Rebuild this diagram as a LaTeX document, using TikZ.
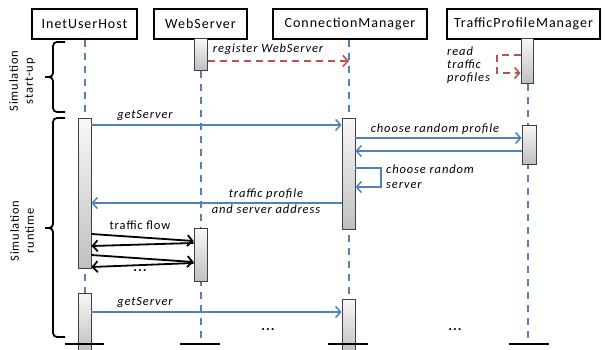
\documentclass[tikz,border=0pt]{standalone}
\usepackage{fontspec}
\setmainfont[LetterSpace=7]{Carlito}
\usetikzlibrary{arrows.meta}
\definecolor{lblue}{HTML}{4F81BD}
\definecolor{lred}{HTML}{C0504D}
\begin{document}
\begin{tikzpicture}[x=1pt,y=-1pt,
  head/.style={draw=black, line width=1.6pt, fill=white, minimum height=30pt, inner sep=0pt, font=\fontsize{14}{16}\selectfont},
  act/.style={draw=black!75, line width=0.8pt, top color=gray!6, bottom color=gray!50, minimum width=13pt, inner sep=0pt, anchor=north},
  life/.style={lblue, line width=1.8pt, dash pattern=on 7.5pt off 5.5pt},
  msg/.style={lblue, line width=1.5pt, -{Straight Barb[length=5pt, width=11pt, line width=1.5pt]}},
  rmsg/.style={lred, line width=1.8pt, dash pattern=on 7pt off 5pt, -{Straight Barb[length=5pt, width=11pt, line width=1.6pt]}},
  flow/.style={black, line width=1.8pt, -{Straight Barb[length=5pt, width=11pt, line width=1.8pt]}},
  bar/.style={black, line width=1.8pt},
  brc/.style={black, line width=1.8pt, rounded corners=4pt},
  lbl/.style={font=\fontsize{12.5}{13}\selectfont\itshape, inner sep=0pt},
  ulbl/.style={font=\fontsize{12.5}{13}\selectfont, inner sep=0pt},
  dots/.style={font=\fontsize{14}{14}\selectfont\bfseries, inner sep=0pt},
  side/.style={font=\fontsize{12.5}{15}\selectfont, align=center, rotate=90, inner sep=0pt},
]
\useasboundingbox (0,0) rectangle (605,349);
\fill[white] (0,0) rectangle (605,349);

% headers
\node[head, minimum width=105pt] (h1) at (84.5,24) {InetUserHost};
\node[head, minimum width=93pt] (h2) at (200.5,24) {WebServer};
\node[head, minimum width=154pt] (h3) at (350,24) {ConnectionManager};
\node[head, minimum width=153pt] (h4) at (523.5,24) {TrafficProfileManager};

% end points
\coordinate (e1) at (85,344);
\coordinate (e2) at (201,344);
\coordinate (e3) at (349,344);
\coordinate (e4) at (528,344);

% activations (first set for lifeline start)
\node[act, minimum height=32pt] (w1) at (201,38) {};
\node[act, minimum height=45pt, minimum width=12pt] (t1) at (527,38) {};

% lifelines
\draw[life] (h1.south -| e1) -- (e1);
\draw[life] (w1.south -| e2) -- (e2);
\draw[life] (h3.south -| e3) -- (e3);
\draw[life] (t1.south -| e4) -- (e4);

% redraw activations on top
\node[act, minimum height=32pt] at (201,38) {};
\node[act, minimum height=45pt, minimum width=12pt] at (527,38) {};
\node[act, minimum height=150pt] (a1) at (84.5,118) {};
\node[act, minimum height=111pt] (c1) at (348.5,118) {};
\node[act, minimum height=39pt, minimum width=14pt] (t2) at (529,125) {};
\node[act, minimum height=53pt] (w2) at (200.5,228) {};
\node[act, minimum height=58pt] (a2) at (84.5,293) {};
\node[act, minimum height=52pt] (c2) at (348.5,299) {};

% termination bars
\draw[bar] ([xshift=-20pt]e1) -- ([xshift=19pt]e1);
\draw[bar] ([xshift=-21pt]e2) -- ([xshift=19pt]e2);
\draw[bar] ([xshift=-21pt]e3) -- ([xshift=19pt]e3);
\draw[bar] ([xshift=-19pt]e4) -- ([xshift=21pt]e4);

% start-up messages
\draw[rmsg] (w1.east |- 0,61) -- (e3 |- 0,61);
\node[lbl] (l1) at (268,49) {register WebServer};
\draw[rmsg] (t1.west |- 0,55) -- (497,55) -- (497,73) -- (t1.west |- 0,73);
\node[lbl, align=left, anchor=north west, font=\fontsize{12.5}{13}\selectfont\itshape] (l2) at (447,47) {read\\traffic\\profiles};

% runtime messages
\draw[msg] (a1.east |- 0,125) -- (c1.west |- 0,125);
\node[lbl] (l3) at (145,116) {getServer};
\draw[msg] (c1.east |- 0,138) -- (t2.west |- 0,138);
\node[lbl] (l4) at (435,129) {choose random profile};
\draw[msg] (t2.west |- 0,151) -- (c1.east |- 0,151);
\draw[msg] (c1.east |- 0,168) -- (381,168) -- (381,187) -- (c1.east |- 0,187);
\node[lbl, align=left, anchor=north west, font=\fontsize{12.5}{15}\selectfont\itshape] (l5) at (386,165) {choose random\\server};
\draw[msg] (c1.west |- 0,203) -- (a1.east |- 0,203);
\node[lbl, align=center, font=\fontsize{12.5}{16}\selectfont\itshape] (l6) at (266,201) {traffic profile\\and server address};

% traffic flow
\draw[flow] (a1.east |- 0,234) -- (w2.west |- 0,241);
\draw[flow] (w2.west |- 0,243) -- (a1.east |- 0,246);
\draw[flow] (a1.east |- 0,255) -- (w2.west |- 0,262);
\draw[flow] (w2.west |- 0,263) -- (a1.east |- 0,267);
\node[ulbl] (l7) at (140,225) {traffic flow};
\node[dots] (d1) at (140,271) {...};

% second round
\draw[msg] (a2.east |- 0,312) -- (c2.west |- 0,312);
\node[lbl] (l8) at (145,303) {getServer};
\node[dots] (d2) at (268,330) {...};
\node[dots] (d3) at (455,330) {...};

% braces
\draw[brc] (65,42) -- (53,42) -- (53,77) -- (45,77);
\draw[brc] (45,77) -- (53,77) -- (53,112) -- (65,112);
\draw[brc] (65,118) -- (53,118) -- (53,228) -- (45,228);
\draw[brc] (45,228) -- (53,228) -- (53,337) -- (65,337);
\node[side] (s1) at (22,81) {Simulation\\start-up};
\node[side] (s2) at (22,231) {Simulation\\runtime};
\end{tikzpicture}
\end{document}
